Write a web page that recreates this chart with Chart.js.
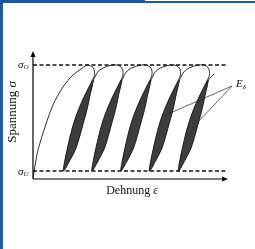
<!DOCTYPE html>
<html>
<head>
<meta charset="utf-8">
<script src="https://cdn.jsdelivr.net/npm/chart.js@4.4.1/dist/chart.umd.min.js"></script>
<style>
  html, body { margin: 0; padding: 0; background: #fff; }
  #wrap { position: relative; width: 255px; height: 249px; overflow: hidden; }
  canvas { position: absolute; left: 0; top: 0; }
  .frame { position: absolute; background: #1d57a5; }
</style>
</head>
<body>
<div id="wrap">
  <canvas id="chart" width="255" height="249"></canvas>
  <div class="frame" style="left:0;top:0;width:145px;height:3px"></div>
  <div class="frame" style="left:145px;top:1px;width:110px;height:2px"></div>
  <div class="frame" style="left:0;top:0;width:3px;height:249px"></div>
</div>
<script>
// Werte in Achseneinheiten (Dehnung / Spannung)
const sigmaO = 114;    // Oberspannung
const sigmaU = 8;      // Unterspannung
const epsEnd = 195;    // Pfeilspitze Dehnungsachse
const sigmaEnd = 128;  // Pfeilspitze Spannungsachse
const dashEnd = 193;

// Erstbelastung bis zur Oberspannung
const firstLoad = [[0, 0], [1, 7], [5, 29], [12, 52], [20, 74], [30, 92], [40, 104], [48, 110], [53, 113.5], [55.5, 114]];

// Umkehrpunkte unten (Dehnung bei Unterspannung)
const cycleStart = [30.5, 59, 88, 116.5, 145.5];

// Entlastungsast relativ zum Umkehrpunkt: [Δε, σ]
const unloadBranch = [[25, 114], [29.5, 111.5], [31, 107.5], [30.8, 103.5], [29, 99], [25.5, 92], [21.5, 84], [17, 74], [13, 64], [10, 55], [7, 44], [4, 31], [1.5, 19], [0, 8]];
// Wiederbelastungsast relativ zum Umkehrpunkt
const reloadBranch = [[0, 8], [6.5, 19], [12.5, 31], [16.5, 44], [19.5, 55], [22, 64], [24.5, 74], [26.5, 84], [28.5, 92], [30, 99], [31.5, 102], [33.5, 106], [37, 109.5], [42, 112], [48, 113.7]];
const lastReloadEnd = [35.5, 105];
const lensTop = 99; // bis hierhin ist die Schleife gefuellt

// Hinweislinien zu E_delta
const labelE = [199, 93];
const pointerEnds = [[135, 65], [164, 56]];

const shift = (pts, dx) => pts.map(([e, s]) => ({ x: e + dx, y: s }));

// durchgehender Pfad
const pathPts = shift(firstLoad.slice(0, -1), 0);
cycleStart.forEach((b, i) => {
  pathPts.push(...shift(unloadBranch, b));
  let reload = reloadBranch;
  if (i === cycleStart.length - 1) {
    reload = reloadBranch.filter(([, s]) => s <= 100).concat([lastReloadEnd]);
  }
  pathPts.push(...shift(reload.slice(1), b));
});

const lensData = b => shift(
  unloadBranch.filter(([, s]) => s <= lensTop)
    .concat(reloadBranch.slice(1).filter(([, s]) => s <= lensTop)), b);

const datasets = [
  { data: pathPts, borderColor: '#1a1a1a', borderWidth: 0.9, tension: 0.35 },
  { data: [{ x: 0, y: sigmaO }, { x: dashEnd, y: sigmaO }], borderColor: '#111', borderWidth: 1.4, borderDash: [4, 2.5] },
  { data: [{ x: 0, y: sigmaU }, { x: dashEnd, y: sigmaU }], borderColor: '#111', borderWidth: 1.4, borderDash: [4, 2.5] },
];
pointerEnds.forEach(p => {
  datasets.push({ data: [{ x: labelE[0], y: labelE[1] }, { x: p[0], y: p[1] }], borderColor: '#222', borderWidth: 0.7 });
});
cycleStart.forEach(b => {
  datasets.push({ data: lensData(b), borderColor: '#3d3d3d', borderWidth: 0.5, backgroundColor: '#3d3d3d', fill: 'shape', tension: 0.35 });
});

const serif = '"Liberation Serif", "DejaVu Serif", serif';

function sigmaLabel(ctx, xr, y, sub) {
  ctx.font = 'italic 11px ' + serif;
  ctx.textAlign = 'left';
  ctx.textBaseline = 'middle';
  const w = ctx.measureText('σ').width;
  ctx.fillText('σ', xr, y);
  ctx.font = 'italic 7px ' + serif;
  ctx.fillText(sub, xr + w, y + 2.5);
}

const axesAndLabels = {
  id: 'axesAndLabels',
  afterDatasetsDraw(chart) {
    const { ctx, scales: { x, y } } = chart;
    const x0 = x.getPixelForValue(0), y0 = y.getPixelForValue(0);
    const xe = x.getPixelForValue(epsEnd), ye = y.getPixelForValue(sigmaEnd);
    ctx.save();
    ctx.strokeStyle = '#000';
    ctx.fillStyle = '#000';
    ctx.lineWidth = 1.2;
    ctx.beginPath();
    ctx.moveTo(x0, y0); ctx.lineTo(xe - 4, y0);
    ctx.moveTo(x0, y0); ctx.lineTo(x0, ye + 4);
    ctx.stroke();
    ctx.beginPath();
    ctx.moveTo(xe, y0); ctx.lineTo(xe - 6, y0 - 2.5); ctx.lineTo(xe - 6, y0 + 2.5); ctx.closePath();
    ctx.moveTo(x0, ye); ctx.lineTo(x0 - 2.5, ye + 6); ctx.lineTo(x0 + 2.5, ye + 6); ctx.closePath();
    ctx.fill();

    ctx.fillStyle = '#111';
    sigmaLabel(ctx, x0 - 15, y.getPixelForValue(sigmaO), 'O');
    sigmaLabel(ctx, x0 - 15, y.getPixelForValue(sigmaU) + 1, 'U');

    // E_delta
    const ex = x.getPixelForValue(labelE[0]) + 4, ey = y.getPixelForValue(labelE[1]) - 2;
    ctx.font = 'italic 11px ' + serif;
    ctx.textAlign = 'left';
    ctx.textBaseline = 'middle';
    ctx.fillText('E', ex, ey);
    const ew = ctx.measureText('E').width;
    ctx.font = 'italic 7px ' + serif;
    ctx.fillText('δ', ex + ew, ey + 3);

    // Achsentitel
    ctx.font = '12px ' + serif;
    const t1 = 'Dehnung ', t2 = 'ε';
    const w1 = ctx.measureText(t1).width;
    ctx.font = 'italic 12px ' + serif;
    const w2 = ctx.measureText(t2).width;
    const tx = x.getPixelForValue(99) - (w1 + w2) / 2;
    const ty = y0 + 12;
    ctx.font = '12px ' + serif;
    ctx.fillText(t1, tx, ty);
    ctx.font = 'italic 12px ' + serif;
    ctx.fillText(t2, tx + w1, ty);

    ctx.translate(12.5, y.getPixelForValue(67));
    ctx.rotate(-Math.PI / 2);
    ctx.font = '13px ' + serif;
    const s1 = 'Spannung ';
    const sw1 = ctx.measureText(s1).width;
    ctx.font = 'italic 13px ' + serif;
    const sw2 = ctx.measureText('σ').width;
    ctx.font = '13px ' + serif;
    ctx.fillText(s1, -(sw1 + sw2) / 2, 0);
    ctx.font = 'italic 13px ' + serif;
    ctx.fillText('σ', -(sw1 + sw2) / 2 + sw1, 0);
    ctx.restore();
  }
};

new Chart(document.getElementById('chart').getContext('2d'), {
  type: 'line',
  data: { datasets: datasets },
  options: {
    responsive: false,
    animation: false,
    devicePixelRatio: 1,
    layout: { padding: { left: 33, right: 0, top: 51, bottom: 70 } },
    elements: { point: { radius: 0, hoverRadius: 0 }, line: { fill: false } },
    plugins: { legend: { display: false }, tooltip: { enabled: false } },
    events: [],
    scales: {
      x: { type: 'linear', min: 0, max: 222, display: false },
      y: { type: 'linear', min: 0, max: sigmaEnd, display: false }
    }
  },
  plugins: [axesAndLabels]
});
</script>
</body>
</html>
